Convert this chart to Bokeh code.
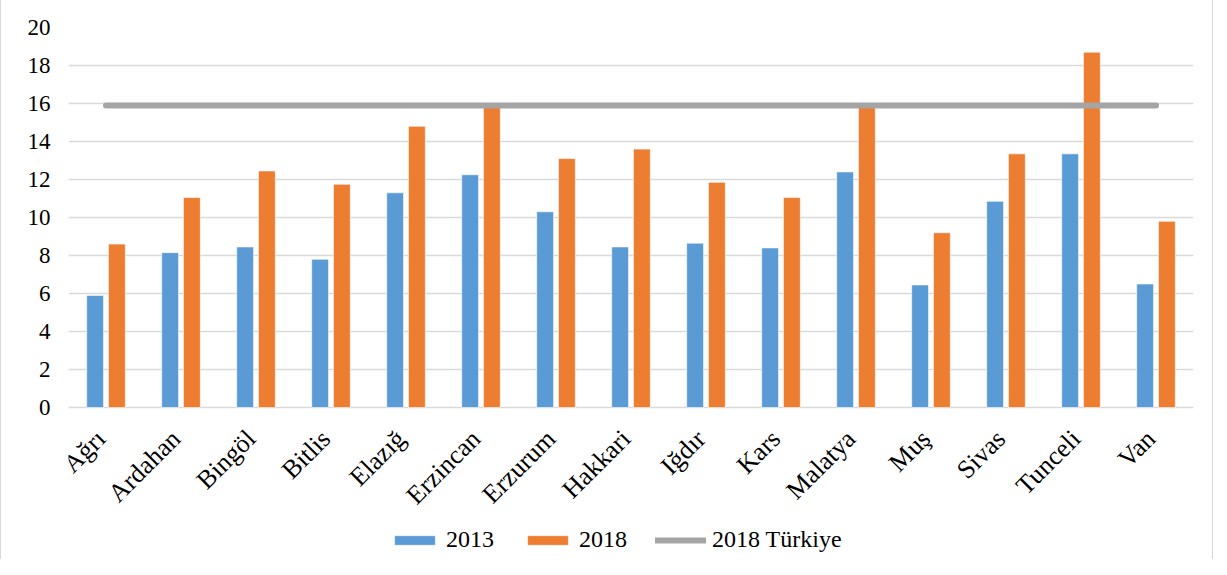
import math
from bokeh.plotting import figure
from bokeh.models import ColumnDataSource, FactorRange, Range1d, FixedTicker, Legend, LegendItem
from bokeh.core.properties import value
from bokeh.transform import dodge
from bokeh.embed import file_html
from bokeh.resources import INLINE

provinces = ["Ağrı", "Ardahan", "Bingöl", "Bitlis", "Elazığ", "Erzincan", "Erzurum",
             "Hakkari", "Iğdır", "Kars", "Malatya", "Muş", "Sivas", "Tunceli", "Van"]
v2013 = [5.9, 8.15, 8.45, 7.8, 11.3, 12.25, 10.3, 8.45, 8.65, 8.4, 12.4, 6.45, 10.85, 13.35, 6.5]
v2018 = [8.6, 11.05, 12.45, 11.75, 14.8, 15.8, 13.1, 13.6, 11.85, 11.05, 15.8, 9.2, 13.35, 18.7, 9.8]
turkiye_2018 = [15.9] * len(provinces)
y_ticks = [0, 2, 4, 6, 8, 10, 12, 14, 16, 18, 20]

BLUE = "#5B9BD5"
ORANGE = "#ED7D31"
GRAY = "#A5A5A5"
GRID = "#D9D9D9"
FONT = "Liberation Serif"

src = ColumnDataSource(dict(prov=provinces, a=v2013, b=v2018, t=turkiye_2018))

# the frame reaches below zero so that the category labels and the legend sit inside it
p = figure(x_range=FactorRange(*provinces, range_padding=0), y_range=Range1d(-8, 20),
           frame_width=1125, frame_height=532, output_backend="svg", toolbar_location=None,
           x_axis_location=None,
           min_border_left=67, min_border_right=19, min_border_top=27, min_border_bottom=0)
p.outline_line_color = None
p.styles = {"border-left": "1px solid #D9D9D9", "border-right": "1px solid #D9D9D9"}

r1 = p.vbar(x=dodge("prov", -0.145, range=p.x_range), top="a", width=0.225, source=src,
            fill_color=BLUE, line_color="white", line_width=0.6)
r2 = p.vbar(x=dodge("prov", 0.145, range=p.x_range), top="b", width=0.225, source=src,
            fill_color=ORANGE, line_color="white", line_width=0.6)
r3 = p.line(x="prov", y="t", source=src, line_color=GRAY, line_width=6, line_cap="round")

# category labels (rotated 45°)
p.text(x="prov", y=0, text="prov", source=src, angle=math.pi / 4,
       text_align="right", text_baseline="middle", x_offset=-5, y_offset=27,
       text_font=value(FONT), text_font_size="26px", text_color="black")

p.xgrid.grid_line_color = None
p.ygrid.ticker = FixedTicker(ticks=y_ticks)
p.ygrid.grid_line_color = GRID
p.ygrid.grid_line_width = 1.5
ya = p.yaxis[0]
ya.ticker = FixedTicker(ticks=y_ticks)
ya.axis_line_color = None
ya.major_tick_line_color = None
ya.minor_tick_line_color = None
ya.major_label_text_font = FONT
ya.major_label_text_color = "black"
ya.major_label_text_font_size = "23px"
ya.major_label_standoff = 12

legend = Legend(items=[LegendItem(label="2013", renderers=[r1]),
                       LegendItem(label="2018", renderers=[r2]),
                       LegendItem(label="2018 Türkiye", renderers=[r3])],
                orientation="horizontal", location=(321, 6),
                glyph_width=51, glyph_height=12, label_standoff=6, spacing=28,
                padding=0, margin=0, border_line_color=None, background_fill_alpha=0,
                label_text_font=FONT, label_text_font_size="24px", label_text_color="black")
p.add_layout(legend, "center")

open("out.html", "w").write(file_html(p, INLINE))
